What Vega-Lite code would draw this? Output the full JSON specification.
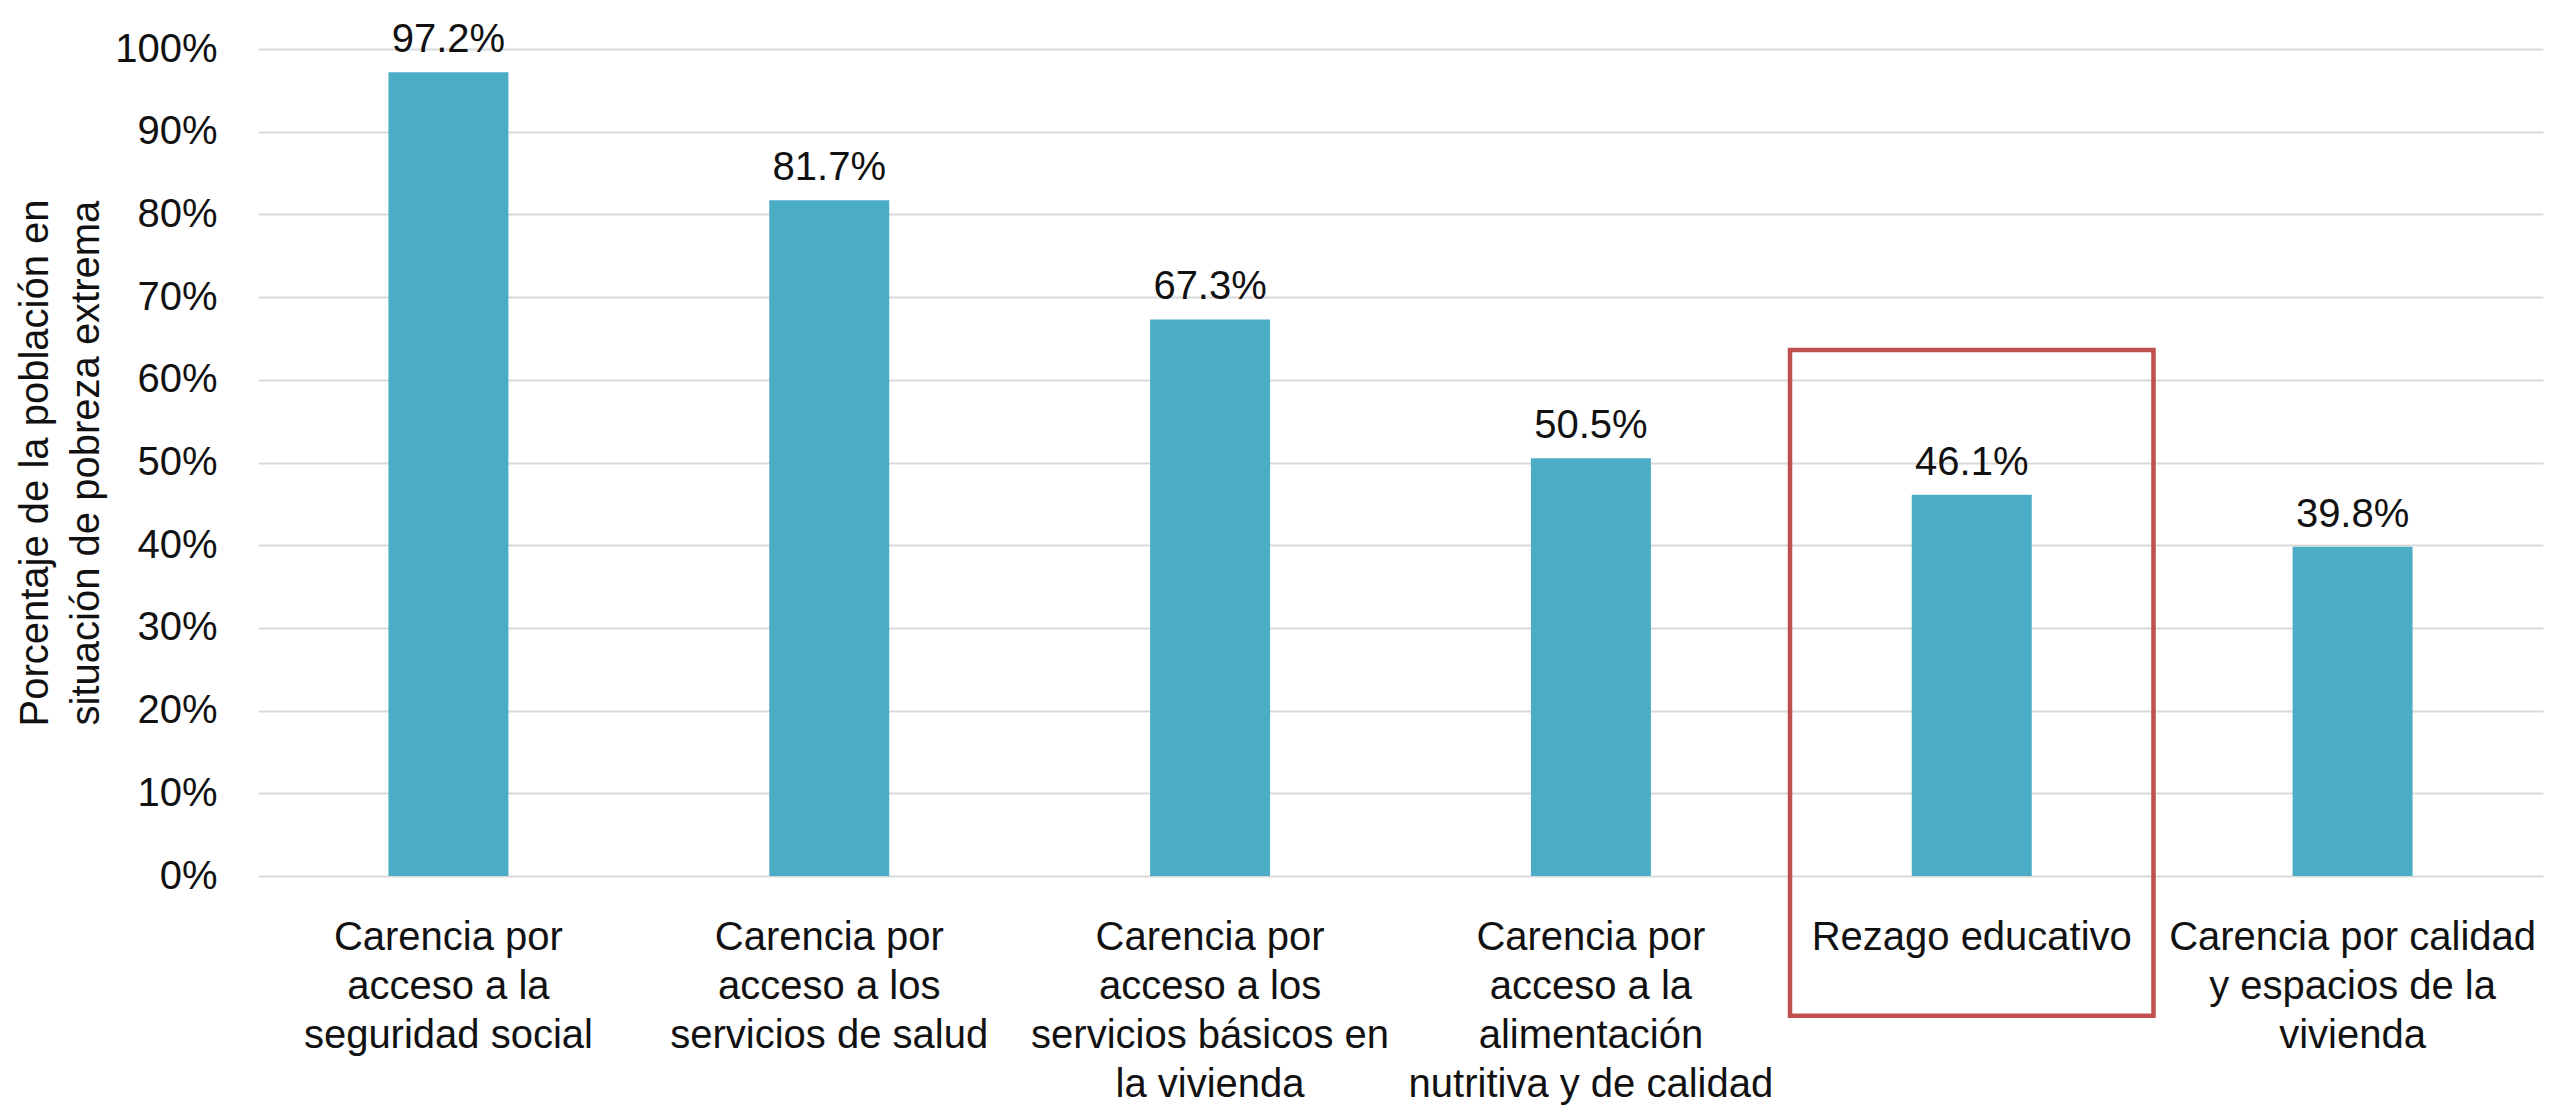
{
  "$schema": "https://vega.github.io/schema/vega-lite/v6.json",
  "autosize": {"type": "none"},
  "padding": {"left": 258, "top": 49, "right": 7, "bottom": 231},
  "width": 2285,
  "height": 827,
  "background": "white",
  "config": {
    "view": {"stroke": null},
    "font": "Liberation Sans"
  },
  "datasets": {
    "carencias": [
      {"categoria": "Carencia por|acceso a la|seguridad social", "valor": 0.972},
      {"categoria": "Carencia por|acceso a los|servicios de salud", "valor": 0.817},
      {"categoria": "Carencia por|acceso a los|servicios básicos en|la vivienda", "valor": 0.673},
      {"categoria": "Carencia por|acceso a la|alimentación|nutritiva y de calidad", "valor": 0.505},
      {"categoria": "Rezago educativo", "valor": 0.461},
      {"categoria": "Carencia por calidad|y espacios de la|vivienda", "valor": 0.398}
    ],
    "resaltado": [
      {"categoria": "Rezago educativo", "arriba": 0.636, "abajo": -0.169}
    ]
  },
  "encoding": {
    "x": {
      "field": "categoria",
      "type": "nominal",
      "sort": null,
      "scale": {"paddingInner": 0.685, "paddingOuter": 0.3425},
      "axis": {
        "title": null,
        "labelAngle": 0,
        "labelExpr": "split(datum.value, '|')",
        "labelFont": "Liberation Sans",
        "labelFontSize": 40,
        "labelColor": "#111111",
        "labelLineHeight": 49,
        "labelPadding": 41,
        "labelLimit": 0,
        "ticks": false,
        "domain": false
      }
    }
  },
  "layer": [
    {
      "data": {"name": "carencias"},
      "mark": {"type": "bar", "color": "#4BACC6"},
      "encoding": {
        "y": {
          "field": "valor",
          "type": "quantitative",
          "scale": {"domain": [0, 1], "nice": false},
          "axis": {
            "title": ["Porcentaje de la población en", "situación de pobreza extrema"],
            "titleFont": "Liberation Sans",
            "titleFontSize": 40,
            "titleFontWeight": "normal",
            "titleColor": "#111111",
            "titleLineHeight": 51,
            "titlePadding": 8,
            "format": ".0%",
            "values": [0, 0.1, 0.2, 0.3, 0.4, 0.5, 0.6, 0.7, 0.8, 0.9, 1],
            "labelFont": "Liberation Sans",
            "labelFontSize": 40,
            "labelColor": "#111111",
            "labelPadding": 41,
            "ticks": false,
            "domain": false,
            "grid": true,
            "gridColor": "#D9D9D9",
            "gridWidth": 2
          }
        }
      }
    },
    {
      "data": {"name": "carencias"},
      "mark": {"type": "text", "baseline": "alphabetic", "dy": -20, "font": "Liberation Sans", "fontSize": 40, "color": "#111111"},
      "encoding": {
        "y": {"field": "valor", "type": "quantitative"},
        "text": {"field": "valor", "type": "quantitative", "format": ".1%"}
      }
    },
    {
      "data": {"name": "resaltado"},
      "mark": {"type": "bar", "fill": null, "fillOpacity": 0, "stroke": "#C0504D", "strokeWidth": 4.5, "width": {"band": 3.03}},
      "encoding": {
        "y": {"field": "arriba", "type": "quantitative"},
        "y2": {"field": "abajo"}
      }
    }
  ]
}
